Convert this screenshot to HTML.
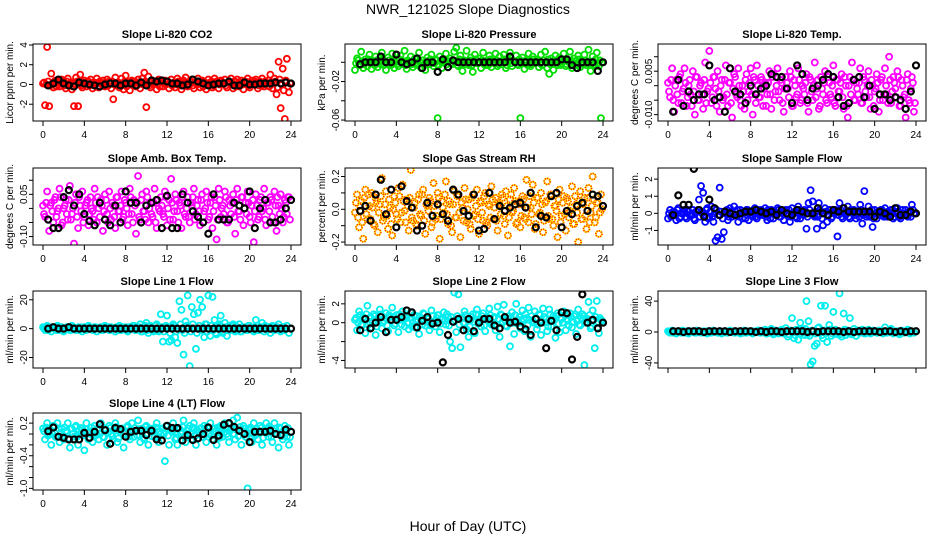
<!DOCTYPE html>
<html><head><meta charset="utf-8">
<style>
html,body{margin:0;padding:0;background:#fff;}
svg{display:block;font-family:"Liberation Sans",Arial,sans-serif;}
</style></head>
<body>
<svg id="chart" width="936" height="540" viewBox="0 0 936 540" xmlns="http://www.w3.org/2000/svg">
<rect x="0" y="0" width="936" height="540" fill="#fff"/>
<text x="468" y="14" text-anchor="middle" font-size="14">NWR_121025  Slope Diagnostics</text>
<text x="468" y="531" text-anchor="middle" font-size="14">Hour of Day (UTC)</text>
<g id="panels"></g>
</svg>
<script>
// ---- shared categories ----
const hours = [0,0.2,0.4,0.6,0.8,1,1.2,1.4,1.6,1.8,2,2.2,2.4,2.6,2.8,3,3.2,3.4,3.6,3.8,4,4.2,4.4,4.6,4.8,5,5.2,5.4,5.6,5.8,6,6.2,6.4,6.6,6.8,7,7.2,7.4,7.6,7.8,8,8.2,8.4,8.6,8.8,9,9.2,9.4,9.6,9.8,10,10.2,10.4,10.6,10.8,11,11.2,11.4,11.6,11.8,12,12.2,12.4,12.6,12.8,13,13.2,13.4,13.6,13.8,14,14.2,14.4,14.6,14.8,15,15.2,15.4,15.6,15.8,16,16.2,16.4,16.6,16.8,17,17.2,17.4,17.6,17.8,18,18.2,18.4,18.6,18.8,19,19.2,19.4,19.6,19.8,20,20.2,20.4,20.6,20.8,21,21.2,21.4,21.6,21.8,22,22.2,22.4,22.6,22.8,23,23.2,23.4,23.6,23.8];
const hours2 = [0.1,0.3,0.5,0.7,0.9,1.1,1.3,1.5,1.7,1.9,2.1,2.3,2.5,2.7,2.9,3.1,3.3,3.5,3.7,3.9,4.1,4.3,4.5,4.7,4.9,5.1,5.3,5.5,5.7,5.9,6.1,6.3,6.5,6.7,6.9,7.1,7.3,7.5,7.7,7.9,8.1,8.3,8.5,8.7,8.9,9.1,9.3,9.5,9.7,9.9,10.1,10.3,10.5,10.7,10.9,11.1,11.3,11.5,11.7,11.9,12.1,12.3,12.5,12.7,12.9,13.1,13.3,13.5,13.7,13.9,14.1,14.3,14.5,14.7,14.9,15.1,15.3,15.5,15.7,15.9,16.1,16.3,16.5,16.7,16.9,17.1,17.3,17.5,17.7,17.9,18.1,18.3,18.5,18.7,18.9,19.1,19.3,19.5,19.7,19.9,20.1,20.3,20.5,20.7,20.9,21.1,21.3,21.5,21.7,21.9,22.1,22.3,22.5,22.7,22.9,23.1,23.3,23.5,23.7,23.9];
const blackHours = [0.5,1,1.5,2,2.5,3,3.5,4,4.5,5,5.5,6,6.5,7,7.5,8,8.5,9,9.5,10,10.5,11,11.5,12,12.5,13,13.5,14,14.5,15,15.5,16,16.5,17,17.5,18,18.5,19,19.5,20,20.5,21,21.5,22,22.5,23,23.5,24];
const xTicks = [0,4,8,12,16,20,24];

// ---- series values ----
const co2 = [0.1,-2.1,3.8,-2.2,1.1,-0.3,0.4,0.2,-0.2,0.5,0.3,-0.4,0.6,0.1,-0.5,-2.2,0.7,-2.2,1.0,-0.3,0.4,-0.2,0.3,0.5,-0.4,0.2,0.6,-0.3,0.1,0.4,-0.2,0.5,0.3,-0.4,-1.5,0.7,0.2,-0.3,0.6,-0.5,0.9,0.2,-0.6,0.4,0.3,-0.2,0.5,-0.4,0.6,1.2,-2.3,0.8,-0.3,0.4,0.2,-0.5,0.5,0.3,-0.2,0.4,0.3,-0.4,0.5,0.1,-0.3,0.6,0.2,-0.5,0.4,0.7,-0.2,0.3,0.5,-0.4,0.2,0.6,-0.3,0.4,0.1,-0.5,0.5,0.2,-0.3,0.6,0.3,-0.4,0.4,0.1,0.5,-0.3,0.2,0.6,-0.4,0.3,0.5,-0.2,0.4,-0.5,0.3,0.6,-0.3,0.4,0.2,0.5,-0.4,0.3,0.6,-0.2,0.1,0.4,1.0,-0.4,0.6,-1.0,2.3,-2.4,1.6,-3.5,2.6,-0.8];
const co2B = [0.2,0.0,0.3,-0.1,0.1,0.3,-0.2,0.0,0.2,0.1,-0.1,0.3,0.0,0.2,-0.2,0.1,0.3,0.0,-0.1,0.2,0.1,0.3,-0.1,0.0,0.2,0.1,-0.2,0.3,0.1,0.0,0.2,-0.1,0.1,0.3,0.0,-0.1,0.2,0.1,0.0,0.3,-0.2,0.1,0.2,0.0,0.3,-0.1,0.1,0.2,0.0,0.3,0.1,-0.1,0.2,0.0,0.3,0.1,-0.2,0.2,0.1,0.0,0.3,0.1,-0.1,0.2,0.0,0.3,-0.1,0.1,0.2,0.0,0.1,0.3,-0.1,0.2,0.0,0.1,0.3,-0.2,0.2,0.1,0.0,0.3,-0.1,0.1,0.2,0.0,0.3,0.1,-0.1,0.2,0.1,0.0,0.3,-0.2,0.1,0.2,0.0,0.3,0.1,-0.1,0.2,0.0,0.3,0.1,-0.1,0.2,0.0,0.3,0.1,-0.2,0.2,0.1,0.3,-0.3,0.5,0.0,-0.6,0.4,-0.2,0.1];
const co2Black = [-0.1,0.1,0.5,0.1,-0.1,-0.2,0.2,0.1,0,-0.1,-0.2,0,0.1,0.1,-0.1,0.1,0.1,-0.1,0.2,-0.1,0.4,0.3,0.4,0.3,0.1,0.1,-0.1,0,0.5,0.3,0.1,-0.1,0,0.1,0.1,0.3,-0.1,-0.1,0.2,0,0,0.1,0.1,0.1,0.2,0.1,0.2,0.1];

const pres = [-0.008,0.004,-0.002,0.011,-0.006,0.003,-0.004,0.008,-0.007,0.001,0.006,-0.005,0.002,0.010,-0.003,-0.008,0.005,-0.001,0.009,-0.006,0.003,-0.004,0.007,-0.002,0.012,-0.007,0.001,0.006,-0.005,0.004,-0.003,0.010,-0.006,0.002,-0.008,0.005,-0.002,0.008,-0.004,0.003,-0.058,0.006,-0.006,0.001,0.009,-0.005,0.004,-0.002,0.011,0.015,-0.004,0.007,-0.009,0.002,0.012,-0.003,0.005,-0.010,0.008,-0.001,0.004,-0.006,0.010,-0.003,0.002,0.007,-0.005,0.001,0.009,-0.004,0.006,-0.002,0.008,-0.006,0.003,0.010,-0.004,0.001,0.007,-0.003,-0.058,0.005,-0.007,0.002,0.009,-0.004,0.006,-0.001,0.003,-0.005,0.008,-0.002,0.011,-0.006,-0.012,0.004,-0.008,0.007,-0.003,0.005,-0.001,0.009,-0.004,0.002,0.011,-0.006,0.004,-0.002,0.007,-0.005,0.001,0.008,-0.003,0.013,-0.009,0.006,-0.002,0.010,-0.004,-0.058];
const presB = [-0.001,0.002,-0.003,0.001,-0.002,0.000,0.003,-0.001,0.001,-0.003,0.002,0.000,-0.002,0.003,0.000,-0.001,0.002,-0.003,0.001,0.000,-0.002,0.003,-0.001,0.001,-0.003,0.002,0.000,-0.002,0.001,0.003,-0.001,0.000,0.002,-0.003,0.001,-0.002,0.003,0.000,-0.001,0.002,-0.003,0.001,0.000,0.003,-0.002,0.001,-0.001,0.002,0.000,-0.003,0.003,-0.001,0.001,-0.002,0.000,0.002,-0.003,0.001,0.003,-0.001,0.000,0.002,-0.002,0.001,-0.003,0.003,0.000,-0.001,0.002,-0.002,0.001,0.000,0.003,-0.003,0.001,-0.001,0.002,0.000,-0.002,0.003,-0.001,0.001,0.000,-0.003,0.002,-0.002,0.003,0.000,0.001,-0.001,-0.003,0.002,0.000,0.003,-0.002,0.001,-0.001,0.002,0.000,-0.003,0.001,0.003,-0.002,0.000,0.002,-0.001,0.001,-0.003,0.003,0.000,-0.002,0.002,-0.001,0.001,0.000,-0.003,0.003,-0.001,0.002,0.000];
const presBlack = [-0.002,0.000,0.000,0.000,0.006,0.000,0.000,0.008,0.000,-0.002,0.000,0.004,-0.006,0.000,0.000,-0.010,0.003,-0.005,0.002,0.000,0.000,0.000,0.000,0.000,0.000,0.000,0.000,0.000,0.000,0.006,0.000,0.000,0.000,0.000,0.000,0.000,0.000,0.000,0.000,0.003,0.003,-0.003,-0.006,0.000,0.000,0.000,-0.009,0.000];

const temp = [0.001,-0.004,0.006,-0.009,0.002,-0.006,0.004,-0.002,0.006,-0.007,0.000,-0.003,0.005,-0.010,0.003,-0.005,0.001,-0.008,0.008,-0.002,0.012,-0.006,0.003,-0.001,0.005,-0.009,0.002,-0.004,0.007,-0.007,0.001,-0.011,0.004,-0.003,0.006,-0.005,0.000,-0.008,0.004,-0.002,0.006,-0.010,0.002,0.007,-0.004,0.003,-0.007,0.001,-0.003,0.005,-0.008,0.004,-0.002,0.006,-0.005,0.001,-0.009,0.003,-0.001,0.005,-0.007,0.002,-0.004,0.006,-0.006,0.000,-0.003,0.004,-0.009,0.002,-0.005,0.008,-0.001,-0.008,0.003,-0.003,0.005,-0.006,0.001,-0.004,0.007,-0.007,0.002,-0.002,0.004,-0.008,0.000,-0.011,0.003,0.008,-0.005,0.001,-0.003,0.006,-0.006,0.002,-0.004,0.005,-0.008,0.000,-0.002,0.004,-0.009,0.002,-0.005,0.006,-0.003,0.010,-0.006,0.003,-0.001,0.005,-0.007,0.002,-0.004,-0.011,0.004,-0.006,0.003,-0.009];
const tempB = [-0.002,0.002,-0.005,0.000,-0.003,0.003,-0.006,-0.001,0.001,-0.004,0.002,-0.007,-0.002,0.003,-0.005,0.000,-0.003,0.002,-0.006,-0.001,0.001,-0.004,0.003,-0.007,-0.002,0.000,-0.005,0.002,-0.003,0.001,-0.006,-0.001,0.003,-0.004,0.000,-0.007,-0.002,0.002,-0.005,0.001,-0.003,0.003,-0.006,0.000,-0.004,0.002,-0.001,-0.007,0.001,-0.003,0.003,-0.005,0.000,-0.002,0.002,-0.006,-0.001,0.001,-0.004,0.003,-0.007,0.000,-0.003,0.002,-0.005,-0.001,0.001,-0.006,0.003,-0.002,0.000,-0.004,0.002,-0.007,-0.001,0.001,-0.005,0.003,-0.003,0.000,-0.006,0.002,-0.002,0.001,-0.004,0.003,-0.007,0.000,-0.003,0.002,-0.005,-0.001,0.001,-0.006,0.003,-0.002,0.000,-0.004,0.002,-0.007,-0.001,0.001,-0.005,0.003,-0.003,0.000,-0.006,0.002,-0.002,0.001,-0.004,0.003,-0.007,0.000,-0.003,0.002,-0.005,-0.001,0.001,-0.006];
const tempBlack = [-0.009,0.002,-0.007,-0.002,-0.005,-0.003,-0.003,0.007,-0.005,-0.004,-0.009,0.006,-0.002,-0.003,-0.006,0.000,-0.003,-0.001,0.000,0.004,0.003,0.003,-0.001,-0.006,0.007,0.004,-0.005,-0.001,0.000,0.002,0.004,0.003,-0.004,-0.007,-0.006,0.002,0.003,-0.004,0.000,-0.008,-0.003,-0.003,-0.005,-0.004,-0.005,-0.008,-0.002,0.007];

const amb = [0.010,-0.030,0.060,-0.080,0.020,-0.050,0.040,-0.010,0.070,-0.060,0.000,0.030,-0.040,0.080,-0.020,-0.125,0.050,-0.070,0.010,0.060,-0.030,0.020,-0.060,0.040,-0.010,0.070,-0.050,0.000,0.030,-0.080,0.050,-0.020,0.060,-0.040,0.010,-0.070,0.040,-0.010,0.060,-0.030,0.020,-0.060,0.070,-0.020,0.030,-0.090,0.115,-0.040,0.050,-0.010,0.060,-0.050,0.020,-0.030,0.070,-0.070,0.000,0.040,-0.020,0.060,-0.060,0.030,0.105,-0.040,0.050,-0.010,0.020,-0.070,0.060,-0.030,0.040,-0.050,0.010,0.070,-0.020,0.030,-0.060,0.050,-0.010,0.060,-0.040,0.020,-0.070,0.040,-0.110,0.070,-0.030,0.010,0.060,-0.050,0.030,-0.020,0.050,-0.090,0.070,-0.010,0.040,-0.060,0.020,0.060,-0.030,0.010,-0.120,0.050,-0.040,0.030,-0.010,0.070,-0.060,0.020,0.040,-0.030,0.060,-0.080,0.010,0.050,-0.050,0.030,-0.020,0.040];
const ambB = [-0.020,0.020,-0.040,0.010,-0.010,0.030,-0.030,0.000,0.040,-0.050,0.010,-0.020,0.030,-0.040,0.000,0.020,-0.030,0.040,-0.010,-0.050,0.010,0.030,-0.020,0.000,-0.040,0.020,0.040,-0.030,0.010,-0.010,0.030,-0.050,0.000,0.020,-0.030,0.040,-0.010,0.010,-0.040,0.030,0.000,-0.020,0.040,-0.050,0.010,0.020,-0.030,0.030,-0.010,-0.040,0.040,0.000,-0.020,0.020,-0.050,0.030,-0.010,0.010,-0.030,0.040,0.000,-0.040,0.020,-0.010,0.030,-0.050,0.010,0.040,-0.020,0.000,-0.030,0.020,0.040,-0.040,0.010,-0.010,0.030,-0.050,0.000,0.020,-0.030,0.040,-0.010,0.010,-0.040,0.030,0.000,-0.020,0.040,-0.050,0.010,0.020,-0.030,0.030,-0.010,-0.040,0.040,0.000,-0.020,0.020,-0.050,0.030,-0.010,0.010,-0.030,0.040,0.000,-0.040,0.020,-0.010,0.030,-0.050,0.010,0.040,-0.020,0.000,-0.030,0.020,0.040,-0.040];
const ambBlack = [-0.040,-0.070,-0.070,0.040,0.065,0.010,0.050,-0.020,-0.045,-0.060,0.020,-0.040,-0.060,0.010,-0.050,0.060,0.020,0.020,-0.050,0.010,0.020,0.030,-0.070,0.045,-0.070,-0.070,0.050,0.020,-0.010,-0.030,-0.050,-0.090,0.050,-0.040,-0.040,-0.040,0.020,0.010,0.000,0.060,-0.070,0.000,0.030,-0.050,-0.050,-0.040,-0.000,0.030];

const rh = [-0.02,0.09,-0.11,0.05,-0.18,0.12,-0.06,0.02,0.10,-0.09,0.07,-0.14,0.03,0.19,-0.05,0.11,-0.12,0.01,-0.16,0.08,-0.03,0.13,-0.08,0.15,-0.01,0.06,-0.13,0.24,-0.07,0.04,-0.10,0.09,-0.04,0.12,-0.15,0.02,0.07,-0.11,0.16,-0.06,0.10,-0.18,0.05,-0.02,0.17,-0.09,0.03,-0.14,0.11,-0.05,0.08,-0.17,0.01,0.13,-0.08,0.06,-0.12,0.09,-0.03,0.12,-0.15,0.04,-0.07,0.10,-0.10,0.02,0.14,-0.06,0.07,-0.13,0.03,0.09,-0.04,0.11,-0.16,0.06,-0.02,0.13,-0.09,0.05,-0.11,0.08,-0.05,0.18,-0.08,0.01,0.15,-0.12,0.07,-0.03,0.10,-0.14,0.04,0.17,-0.06,0.09,-0.10,0.02,-0.17,0.12,-0.04,0.08,-0.13,0.05,-0.01,0.14,-0.09,0.03,-0.20,0.11,-0.06,0.07,-0.12,0.13,-0.02,0.20,-0.08,0.04,-0.15,0.09];
const rhB = [0.04,-0.05,0.02,-0.08,0.07,-0.03,0.09,-0.06,0.01,-0.10,0.05,-0.02,0.08,-0.07,0.03,-0.04,0.06,-0.09,0.00,0.04,-0.06,0.08,-0.02,0.05,-0.08,0.02,0.07,-0.05,0.01,-0.09,0.06,-0.03,0.09,-0.07,0.03,-0.01,0.05,-0.08,0.02,-0.04,0.07,-0.06,0.01,0.09,-0.03,0.05,-0.10,0.03,-0.05,0.08,-0.02,0.04,-0.07,0.06,0.00,-0.09,0.07,-0.04,0.02,-0.06,0.05,-0.02,0.08,-0.08,0.03,-0.05,0.06,0.01,-0.07,0.04,-0.03,0.07,-0.09,0.02,-0.05,0.09,-0.01,0.05,-0.08,0.03,-0.04,0.06,-0.06,0.01,0.08,-0.03,0.04,-0.09,0.07,-0.02,0.03,-0.07,0.05,-0.04,0.09,-0.06,0.02,-0.01,0.06,-0.08,0.04,-0.03,0.07,-0.05,0.01,-0.09,0.08,-0.02,0.05,-0.06,0.03,-0.04,0.07,-0.08,0.02,0.06,-0.05,0.04,-0.02,0.00];
const rhBlack = [-0.01,0.02,-0.07,0.09,0.18,-0.03,0.12,-0.11,0.14,0.05,0.01,-0.13,-0.10,0.04,-0.04,0.03,-0.03,-0.07,0.12,0.09,-0.01,-0.04,0.09,-0.13,-0.12,0.10,-0.06,0.02,-0.01,0.01,0.03,0.04,0.01,0.10,-0.11,-0.04,-0.05,0.08,0.10,-0.11,-0.01,-0.03,0.02,0.04,-0.01,0.09,0.08,0.02];

const samp = [-0.3,0.2,-0.1,0.1,-0.4,0.3,-0.2,0.0,0.2,-0.3,0.1,-0.1,0.2,-0.4,0.1,0.8,1.6,1.2,-0.5,0.3,-0.2,0.4,-0.5,-1.6,-1.4,1.5,-1.5,-1.1,0.1,-0.4,0.3,-0.2,0.4,-0.1,-0.5,0.2,-0.3,0.1,0.2,-0.4,0.1,-0.2,0.3,-0.3,0.0,0.2,-0.1,0.3,-0.4,0.1,0.2,-0.3,0.0,0.3,-0.2,0.1,-0.4,0.2,-0.1,-0.5,0.3,0.0,-0.2,0.4,-0.3,0.1,0.2,-0.9,0.6,1.35,0.7,-0.2,-0.9,0.6,0.1,-0.7,0.3,-0.5,0.2,-0.3,0.1,0.2,-1.35,0.6,-0.2,0.3,-0.1,0.4,-0.3,0.1,0.2,-0.3,0.0,0.5,-0.6,1.3,-0.2,0.4,-0.1,-0.8,0.2,-0.3,0.1,0.2,-0.1,0.3,-0.2,0.0,0.2,-0.3,0.1,0.3,-0.2,0.0,-0.1,0.2,-0.2,0.1,0.5,0.0];
const sampB = [0.0,-0.2,0.1,-0.1,0.2,-0.3,0.0,0.1,-0.2,0.2,-0.1,0.0,-0.3,0.1,0.2,-0.2,0.0,-0.1,0.2,-0.3,0.1,-0.2,0.0,0.2,-0.1,0.1,-0.3,0.0,0.2,-0.2,0.1,0.0,-0.1,0.2,-0.2,0.0,0.1,-0.3,0.2,0.0,-0.1,0.1,-0.2,0.2,-0.1,0.0,0.1,-0.2,0.2,-0.3,0.0,0.1,-0.1,0.2,-0.2,0.0,0.1,-0.1,0.2,-0.2,0.0,0.1,-0.3,0.2,0.0,-0.1,0.1,-0.2,0.2,0.0,-0.1,0.1,-0.2,0.2,-0.3,0.0,0.1,-0.1,0.2,-0.2,0.0,0.1,-0.1,0.2,-0.3,0.0,0.1,-0.2,0.2,0.0,-0.1,0.1,-0.2,0.2,-0.1,0.0,0.1,-0.2,0.2,-0.3,0.0,0.1,-0.1,0.2,-0.2,0.0,0.1,-0.1,0.2,-0.2,0.0,0.1,-0.3,0.2,0.0,-0.1,0.1,-0.2,0.2,0.0];
const sampBlack = [-0.1,1.05,0.5,0.5,2.6,0.2,-0.2,0.8,0.3,-0.1,0.1,0.0,-0.1,0.0,0.1,0.1,0.2,0.1,0.0,0.1,-0.1,0.2,0.0,-0.1,0.2,0.1,0.0,0.0,0.3,0.0,-0.1,0.2,0.1,0.3,0.1,0.1,0.1,0.1,0.1,-0.2,0.1,0.0,-0.2,0.3,-0.1,-0.1,0.1,0.0];

const l1 = [1,-1,2,0,-2,1,0,2,-1,1,-2,0,1,-1,2,0,-1,1,0,-2,1,-1,2,0,-1,1,-2,0,1,-1,2,0,-1,1,0,-2,1,2,-1,0,1,-2,0,1,2,-1,0,3,-2,1,4,-3,2,0,-1,3,-2,10,-9,1,9,-9,-8,3,-6,-10,19,13,-18,5,23,-26,15,10,-14,11,20,15,-6,3,23,-5,22,6,-4,2,9,-3,4,-5,2,-1,3,-2,1,3,-2,0,1,-1,2,0,-2,6,-1,1,4,-2,0,1,-3,2,-1,0,3,-2,1,-1,2,-3,0,1];
const l1B = [0,1,-1,0,1,0,-1,1,0,-1,0,1,0,-1,1,0,0,-1,1,0,-1,0,1,0,-1,1,0,0,-1,1,0,1,-1,0,0,1,-1,0,1,0,-1,1,0,2,-1,0,1,-2,0,2,-1,1,0,-2,2,0,-1,1,-2,2,0,-3,1,2,-2,0,3,-1,-3,2,1,-2,3,0,-3,2,-1,1,3,-2,0,2,-1,-3,1,3,0,-2,1,-1,0,2,-1,1,0,-2,1,0,-1,2,0,-1,1,0,-1,1,0,2,-1,0,1,-1,0,1,-1,0,1,0];
const l1Black = [0,1,0,0,1,0,0,0,0,0,0,0,0,0,0,0,0,0,0,0,0,0,0,0,0,0,0,0,0,0,0,0,0,0,0,0,0,0,0,0,0,0,0,0,0,0,0,0];

const l2 = [0.3,-0.8,1.2,-0.2,0.6,-1.1,1.8,0.1,-0.5,0.9,-1.3,0.4,1.4,-0.6,0.2,1.0,-0.9,0.6,1.6,-0.3,0.8,-1.0,0.3,1.2,-0.4,0.5,-0.7,1.1,0.0,-0.5,0.7,-1.2,0.2,1.0,-0.3,0.4,-0.8,1.3,0.1,-0.4,0.8,-1.0,0.3,1.1,-0.2,0.6,-2.0,-2.7,3.2,-1.0,3.0,-2.6,0.5,1.2,-0.7,-1.5,0.3,0.9,-1.1,1.4,0.2,-0.4,1.0,-0.9,0.6,1.5,-0.2,0.5,-0.8,1.7,-1.5,0.8,1.9,-0.3,0.4,-2.5,1.1,-1.2,2.0,0.3,-0.6,1.3,-0.9,0.5,1.6,-1.5,0.2,1.2,-0.7,0.9,-1.3,1.5,0.0,-0.9,1.4,-0.4,0.7,-1.6,1.0,-1.0,0.4,1.2,-0.8,0.2,1.0,-0.5,0.7,-1.2,1.4,-0.3,0.9,-4.5,0.1,2.2,-0.6,1.3,-2.7,2.3,-1.1,0.3];
const l2B = [0.5,0.0,0.8,-0.3,0.4,0.9,-0.2,0.6,0.1,0.7,-0.4,0.3,0.9,0.0,0.5,-0.3,0.8,0.2,0.6,-0.1,0.4,0.9,-0.2,0.3,0.7,0.0,0.5,-0.4,0.8,0.2,0.3,0.6,-0.2,0.9,0.1,0.4,-0.3,0.7,0.0,0.5,0.8,-0.1,0.4,0.2,0.9,-0.3,0.6,0.1,0.3,0.7,-0.2,0.5,0.0,0.8,0.3,-0.4,0.6,0.1,0.9,-0.1,0.4,0.7,-0.3,0.5,0.2,0.8,0.0,0.6,-0.2,0.4,0.9,0.1,0.3,-0.4,0.7,0.5,0.0,0.8,-0.1,0.6,0.2,0.4,0.9,-0.3,0.3,0.7,0.0,0.5,-0.2,0.8,0.1,0.6,0.4,-0.4,0.9,0.2,0.3,0.7,-0.1,0.5,0.0,0.8,0.4,-0.3,0.6,0.1,0.9,0.2,-0.2,0.5,0.7,0.0,0.4,0.8,-0.4,0.3,0.6,0.1,0.5,0.2];
const l2Black = [-0.8,0.4,-0.6,0.0,0.6,-1.0,0.3,0.3,0.6,1.3,1.1,-0.5,0.2,0.6,-0.1,0.0,-4.2,-1.3,0.1,0.4,-0.8,0.4,-0.9,0.0,0.4,0.4,-0.3,-0.6,0.6,0.0,0.1,-0.4,-0.7,-1.3,0.4,0.0,-2.7,0.2,-0.8,1.1,1.0,-3.9,-1.5,3.0,0.0,0.3,-0.6,0.0];

const l3 = [1,-1,2,0,-2,1,0,2,-1,1,-2,0,1,-1,2,0,-1,1,0,-2,1,-1,2,0,-1,1,-2,0,1,-1,2,0,-1,1,0,-2,1,2,-1,0,1,-2,0,1,2,-1,0,3,-2,1,4,-3,2,0,-1,3,-2,5,-6,1,18,-8,3,-10,12,4,-4,40,14,-42,-38,-18,-15,6,34,-8,34,-13,9,-5,26,3,-3,50,-6,24,-4,2,18,-3,4,-5,2,-1,3,-2,1,3,-2,0,1,-1,2,0,-2,6,-1,1,4,-2,0,1,-3,2,-1,0,3,-2,1,-1,2,-3,0,1];
const l3B = [0,1,-1,0,1,0,-1,1,0,-1,0,1,0,-1,1,0,0,-1,1,0,-1,0,1,0,-1,1,0,0,-1,1,0,1,-1,0,0,1,-1,0,1,0,-1,1,0,2,-1,0,1,-2,0,2,-1,1,0,-2,2,0,-1,1,-3,2,0,-4,1,3,-2,0,4,-3,-5,2,1,-2,5,0,-4,2,-1,1,3,-2,0,2,-1,-3,1,3,0,-2,1,-1,0,2,-1,1,0,-2,1,0,-1,2,0,-1,1,0,-1,1,0,2,-1,0,1,-1,0,1,-1,0,1,0];
const l3Black = [1,1,0,1,1,1,0,1,1,1,1,0,1,1,1,1,0,1,0,1,1,0,1,1,1,1,0,1,0,1,1,1,1,0,1,0,1,1,1,1,0,1,1,0,1,0,1,1];

const l4 = [0.1,-0.1,0.2,0.0,-0.2,0.15,-0.05,0.2,-0.15,0.1,-0.1,0.05,0.2,-0.25,0.1,-0.05,0.15,-0.2,0.0,0.1,-0.3,0.2,-0.1,0.05,-0.15,0.15,0.0,-0.1,0.2,-0.05,0.1,-0.2,0.15,0.0,-0.1,0.2,-0.15,0.05,0.1,-0.25,0.0,0.15,-0.1,0.2,-0.05,0.05,0.25,-0.15,0.1,-0.1,0.15,-0.2,0.05,0.1,-0.05,0.2,-0.15,0.0,0.1,-0.5,0.15,-0.2,0.05,0.2,-0.1,-0.2,0.1,0.05,0.25,-0.15,0.0,0.15,-0.1,0.2,-0.2,0.05,0.1,-0.05,0.15,-0.15,0.0,0.2,-0.1,0.1,-0.2,0.05,0.15,-0.05,0.2,0.0,-0.15,0.1,0.25,-0.1,0.3,0.05,-0.2,0.15,-0.05,-1.0,0.1,-0.15,0.2,0.0,-0.1,0.15,-0.2,0.05,0.2,-0.05,0.1,-0.15,0.2,0.0,-0.25,0.1,-0.1,0.15,-0.05,-0.2];
const l4B = [0.05,0.12,-0.03,0.08,0.0,0.14,-0.06,0.1,0.02,-0.04,0.12,0.06,-0.08,0.1,0.0,0.13,-0.05,0.07,0.11,-0.02,0.09,0.03,-0.07,0.12,0.05,-0.03,0.1,0.0,0.14,-0.06,0.08,0.02,0.11,-0.04,0.06,0.13,-0.08,0.04,0.1,0.0,0.12,-0.05,0.08,0.03,0.11,-0.02,0.09,0.05,-0.07,0.13,0.01,0.1,-0.04,0.07,0.12,-0.06,0.05,0.1,0.0,0.14,-0.03,0.08,0.04,0.11,-0.07,0.09,0.02,0.13,-0.05,0.06,0.1,0.0,0.12,-0.04,0.08,0.03,0.11,-0.06,0.07,0.13,0.01,-0.03,0.1,0.05,0.12,-0.07,0.09,0.02,0.14,-0.05,0.06,0.11,0.0,0.08,-0.04,0.13,0.03,0.1,-0.06,0.07,0.12,0.01,-0.03,0.09,0.05,0.11,-0.07,0.08,0.02,0.14,-0.05,0.06,0.1,0.0,0.12,-0.04,0.07,0.03,0.11,-0.06];
const l4Black = [0.05,0.12,-0.05,-0.07,-0.1,-0.1,-0.1,0.02,-0.07,0.04,0.18,0.07,-0.18,0.11,0.09,-0.05,0.04,0.06,0.06,-0.02,0.06,-0.1,-0.12,0.15,0.11,0.11,-0.12,-0.02,-0.11,-0.08,0.0,0.12,-0.11,-0.03,0.17,0.2,0.13,0.06,0.0,-0.15,0.04,0.04,0.04,0.06,0.0,-0.02,0.08,0.04];

// ---- panel definitions (titles, labels, limits, ticks) ----
const titles = ["Slope Li-820 CO2","Slope Li-820 Pressure","Slope Li-820 Temp.","Slope Amb. Box Temp.","Slope Gas Stream RH","Slope Sample Flow","Slope Line 1 Flow","Slope Line 2 Flow","Slope Line 3 Flow","Slope Line 4 (LT) Flow"];
const yTitles = ["Licor ppm per min.","kPa per min.","degrees C per min.","degrees C per min.","percent per min.","ml/min per min.","ml/min per min.","ml/min per min.","ml/min per min.","ml/min per min."];
const seriesList = [co2,pres,temp,amb,rh,samp,l1,l2,l3,l4];
const seriesListB = [co2B,presB,tempB,ambB,rhB,sampB,l1B,l2B,l3B,l4B];
const blackList = [co2Black,presBlack,tempBlack,ambBlack,rhBlack,sampBlack,l1Black,l2Black,l3Black,l4Black];
const yLims = [[-3.7,4.1],[-0.061,0.019],[-0.0122,0.0144],[-0.13,0.1435],[-0.218,0.252],[-1.85,2.65],[-27.3,26.1],[-4.8,3.36],[-46.6,53.1],[-1.03,0.386]];
const yTicks = [[-2,0,2,4],[-0.06,-0.04,-0.02,0],[-0.01,-0.005,0,0.005,0.01],[-0.1,-0.05,0,0.05,0.1],[-0.2,-0.1,0,0.1,0.2],[-1,0,1,2],[-20,0,20],[-4,-2,0,2],[-40,0,40],[-1,-0.8,-0.6,-0.4,-0.2,0,0.2]];
const yTickLabels = [["-2","0","2","4"],["-0.06","","-0.02",""],["-0.010","","","0.005",""],["-0.10","","","0.05",""],["-0.2","","0.0","","0.2"],["-1","0","1","2"],["-20","0","20"],["-4","","0","2"],["-40","0","40"],["-1.0","","","-0.4","","","0.2"]];
const colors = ["#ff0000","#00dd00","#ff00ff","#ff00ff","rh","#0000ff","#00eeee","#00eeee","#00eeee","#00eeee"];

// layout
const colLeft = [33,345,658], colW = 268;
const rowTop = [44,168,291,413], rowH = 77;
const showXLabels = [true,true,true,true,true,true,true,false,false,true];

const NS = "http://www.w3.org/2000/svg";
const root = document.getElementById("panels");
function mk(tag, attrs, parent){
  const e = document.createElementNS(NS, tag);
  for (const k in attrs) e.setAttribute(k, attrs[k]);
  parent.appendChild(e);
  return e;
}

function drawPoint(g, cx, cy, color, black){
  if (color === "rh" && !black){
    const c1 = mk("circle",{cx:cx,cy:cy,r:3,fill:"none",stroke:"#ffee00","stroke-width":1.8},g);
    
    
    const c2 = mk("circle",{cx:cx,cy:cy,r:3,fill:"none",stroke:"#ff2200","stroke-width":1.8,"stroke-dasharray":"1 1.3"},g);
    
    
    return;
  }
  const c = mk("circle",{cx:cx,cy:cy,r:3,fill:"none",stroke:black?"#000":color,"stroke-width":black?2.2:1.8},g);
  
  
}

for (let p = 0; p < 10; p++){
  const col = p % 3, row = Math.floor(p / 3);
  const L = colLeft[col], T = rowTop[row], R = L + colW, B = T + rowH;
  const [y0, y1] = yLims[p];
  const xs = h => L + 10 + h * (colW - 20) / 24;
  const ys = v => B - (v - y0) / (y1 - y0) * rowH;
  const g = mk("g", {}, root);
  
  

  const t = mk("text",{x:(L+R)/2,y:T-6,"text-anchor":"middle","font-size":11,"font-weight":"bold"},g);
  t.textContent = titles[p];
  
  

  const yt = mk("text",{x:0,y:0,"text-anchor":"middle","font-size":10,transform:`translate(${L-20},${(T+B)/2}) rotate(-90)`},g);
  yt.textContent = yTitles[p];
  
  

  const clipId = "clip" + p;
  const cp = mk("clipPath",{id:clipId},g);
  mk("rect",{x:L,y:T,width:colW,height:rowH},cp);
  const pg = mk("g",{"clip-path":`url(#${clipId})`},g);
  
  
  const vals = seriesList[p];
  for (let i = 0; i < vals.length; i++) drawPoint(pg, xs(hours[i]), ys(vals[i]), colors[p], false);
  const valsB = seriesListB[p];
  for (let i = 0; i < valsB.length; i++) drawPoint(pg, xs(hours2[i]), ys(valsB[i]), colors[p], false);
  const bv = blackList[p];
  for (let i = 0; i < bv.length; i++) drawPoint(pg, xs(blackHours[i]), ys(bv[i]), "#000", true);

  const box = mk("rect",{x:L,y:T,width:colW,height:rowH,fill:"none",stroke:"#000","stroke-width":1},g);
  
  

  const xa = mk("g",{},g);
  
  
  mk("line",{x1:xs(0),x2:xs(24),y1:B,y2:B,stroke:"#000"},xa);
  xTicks.forEach(v => {
    mk("line",{x1:xs(v),x2:xs(v),y1:B,y2:B+5,stroke:"#000"},xa);
    if (showXLabels[p]){
      const tl = mk("text",{x:xs(v),y:B+17,"text-anchor":"middle","font-size":10},xa);
      tl.textContent = String(v);
      
      
    }
  });

  const ya = mk("g",{},g);
  
  
  const tk = yTicks[p];
  mk("line",{x1:L,x2:L,y1:ys(tk[0]),y2:ys(tk[tk.length-1]),stroke:"#000"},ya);
  tk.forEach((v, i) => {
    mk("line",{x1:L-4,x2:L,y1:ys(v),y2:ys(v),stroke:"#000"},ya);
    const lab = yTickLabels[p][i];
    if (lab){
      const tl = mk("text",{x:0,y:0,"text-anchor":"middle","font-size":10,transform:`translate(${L-6},${ys(v)}) rotate(-90)`},ya);
      tl.textContent = lab;
      
      
    }
  });
}
</script>
</body></html>
